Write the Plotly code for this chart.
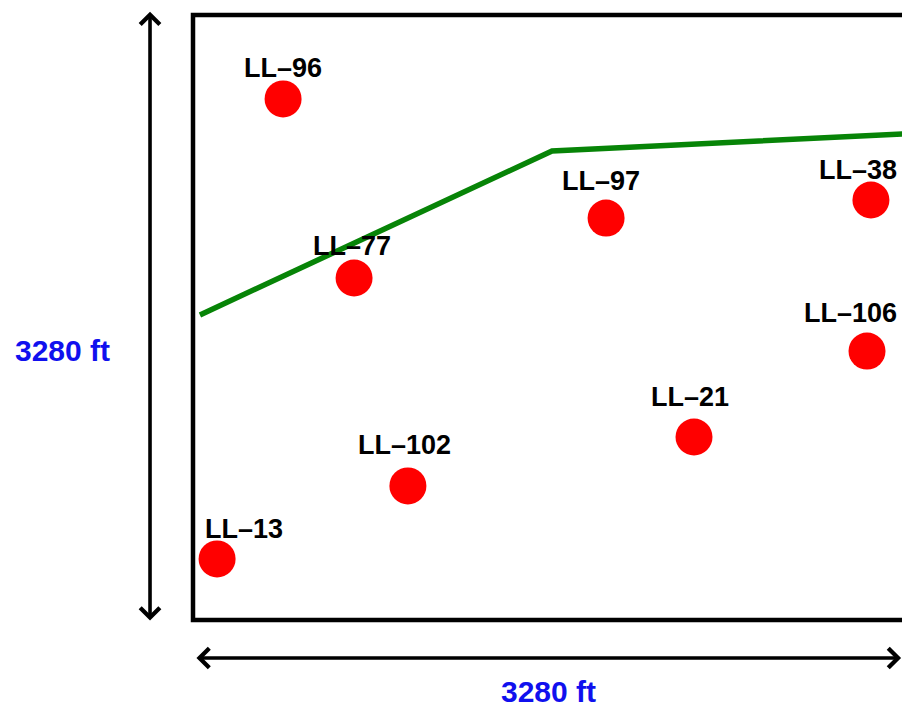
import plotly.graph_objects as go

# ---- data (feet) ----
FIELD_SIZE_FT = 3280
well_names = ["LL-96", "LL-77", "LL-97", "LL-38", "LL-106", "LL-21", "LL-102", "LL-13"]
well_x_ft = [415, 742, 1903, 3123, 3105, 2308, 990, 111]
well_y_ft = [2825, 1854, 2179, 2277, 1458, 992, 727, 331]
# label offsets in pixels relative to the well marker
label_dx = [0, -2, -5, -13, -17, -4, -3, 27]
label_dy = [31, 32, 37, 30, 38, 40, 41, 30]

boundary_x_ft = [32, 1654, 3280]
boundary_y_ft = [1654, 2543, 2636]

dimension_label = "3280 ft"

W, H = 902, 709
X_RANGE = [-889.1, 3266.2]
Y_RANGE = [-482.5, 3361.3]

fig = go.Figure()

# field rectangle
fig.add_shape(type="rect", x0=0, y0=0, x1=FIELD_SIZE_FT, y1=FIELD_SIZE_FT,
              xref="x", yref="y", line=dict(color="black", width=4.5),
              fillcolor="rgba(0,0,0,0)", layer="below")

# green boundary line
fig.add_trace(go.Scatter(x=boundary_x_ft, y=boundary_y_ft, mode="lines",
                         line=dict(color="#078407", width=5.5), hoverinfo="skip",
                         showlegend=False))

# wells
fig.add_trace(go.Scatter(x=well_x_ft, y=well_y_ft, mode="markers",
                         marker=dict(color="#ff0000", size=37, line=dict(width=0)),
                         text=well_names, hoverinfo="text", showlegend=False))

label_font = dict(family="Liberation Sans, Arial, sans-serif", size=27, color="black")
for name, x, y, dx, dy in zip(well_names, well_x_ft, well_y_ft, label_dx, label_dy):
    fig.add_annotation(x=x, y=y, xref="x", yref="y", text="<b>" + name.replace("-", "–") + "</b>",
                       showarrow=False, xshift=dx, yshift=dy, font=label_font,
                       xanchor="center", yanchor="middle")

# dimension arrows
arrow_style = dict(showarrow=True, arrowhead=4, startarrowhead=4, arrowside="end+start",
                   arrowsize=1.05, startarrowsize=1.05, arrowwidth=3.6, arrowcolor="black",
                   standoff=0, startstandoff=0, text="")
fig.add_annotation(x=-198, y=3298, ax=-198, ay=-11, xref="x", yref="y",
                   axref="x", ayref="y", **arrow_style)
fig.add_annotation(x=3262, y=-206, ax=9, ay=-206, xref="x", yref="y",
                   axref="x", ayref="y", **arrow_style)

dim_font = dict(family="Liberation Sans, Arial, sans-serif", size=30, color="#1010ee")
fig.add_annotation(x=62 / W, y=1 - 350 / H, xref="paper", yref="paper",
                   text="<b>" + dimension_label + "</b>", showarrow=False, font=dim_font,
                   xanchor="center", yanchor="middle")
fig.add_annotation(x=548 / W, y=0, xref="paper", yref="paper",
                   text="<b>" + dimension_label + "</b>", showarrow=False, font=dim_font,
                   xanchor="center", yanchor="bottom", borderpad=0)

fig.update_layout(
    width=W, height=H,
    margin=dict(l=0, r=0, t=0, b=0),
    paper_bgcolor="white", plot_bgcolor="white",
    xaxis=dict(range=X_RANGE, visible=False, fixedrange=True),
    yaxis=dict(range=Y_RANGE, visible=False, fixedrange=True),
)

fig.write_html(
    "out.html",
    config={"displayModeBar": False},
    post_script="document.body.style.margin='0';document.body.style.overflow='hidden';",
)
